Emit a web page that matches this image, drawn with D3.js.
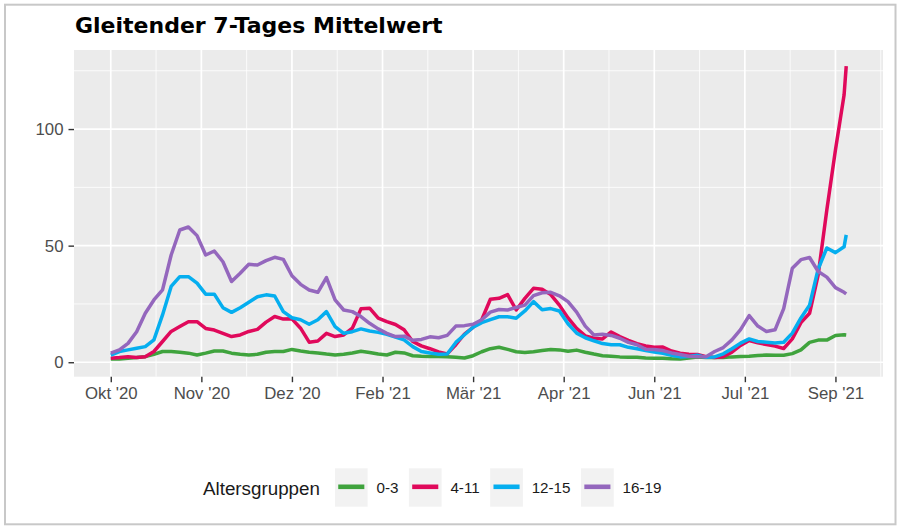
<!DOCTYPE html>
<html><head><meta charset="utf-8">
<script src="https://cdn.jsdelivr.net/npm/d3@7"></script>
<style>html,body{margin:0;padding:0;background:#fff;} svg{display:block;}</style>
</head><body>
<svg id="chart" width="900" height="531"></svg>
<script>
// ---------- data ----------
const chartTitle = "Gleitender 7-Tages Mittelwert";
const legendTitle = "Altersgruppen";
const groups = ["0-3", "4-11", "12-15", "16-19"];
const groupColors = ["#3fa33d", "#e0095b", "#05aeef", "#9467bd"];
const startDate = "2020-10-01";
const stepDays = 4;   // samples every 4 days
const lastDay = 341;  // final sample (2021-09-07)

const values0_3 = [1.4,1.4,1.7,2.0,2.4,3.4,4.6,4.6,4.3,3.9,
  3.1,3.9,4.8,4.8,3.9,3.4,3.1,3.4,4.3,4.6,
  4.6,5.5,4.8,4.3,4.0,3.5,3.1,3.4,4.0,4.7,
  4.2,3.5,3.1,4.3,4.0,2.8,2.6,2.5,2.5,2.4,
  2.1,1.8,2.8,4.5,5.8,6.4,5.5,4.5,4.2,4.5,
  5.0,5.5,5.3,4.7,5.2,4.3,3.5,2.8,2.6,2.3,
  2.1,2.1,1.8,1.7,1.7,1.5,1.4,1.8,2.2,2.0,
  2.0,2.0,2.3,2.5,2.6,2.9,3.1,3.0,3.0,3.7,
  5.3,8.5,9.5,9.5,11.5,11.8,11.7];
const values4_11 = [1.7,2.0,2.4,2.0,2.4,4.6,8.9,13.2,15.3,17.4,
  17.4,14.5,13.8,12.4,11.0,11.7,13.2,14.1,17.2,19.6,
  18.5,18.6,14.6,8.6,9.1,12.4,11.0,11.7,14.6,22.9,
  23.2,18.9,17.4,16.2,13.9,8.9,7.0,5.8,4.4,3.6,
  7.5,12.1,15.0,18.2,27.0,27.4,29.0,22.4,27.4,31.7,
  31.3,29.0,24.5,19.0,14.5,11.3,10.3,10.0,13.0,11.0,
  9.4,8.0,7.0,6.4,6.5,4.8,3.9,3.4,3.3,2.4,
  2.0,2.4,4.3,7.2,9.3,8.3,7.6,6.9,5.9,10.0,
  17.0,21.0,37.5,65.3,91.0,114.6,127.0];
const values12_15 = [3.1,4.6,5.3,6.0,6.7,9.6,20.3,32.5,36.7,36.7,
  33.9,29.2,29.2,23.4,21.4,23.4,25.7,28.1,28.9,28.4,
  21.7,19.1,18.2,16.3,18.2,21.7,15.3,12.4,13.1,14.3,
  13.4,12.8,12.0,10.8,9.6,6.7,4.6,4.0,3.4,3.5,
  8.5,11.8,15.0,17.0,18.3,19.5,19.5,18.9,22.0,26.0,
  22.5,23.0,22.0,16.5,12.5,10.5,9.2,8.0,7.5,7.5,
  6.4,5.8,5.0,4.4,3.8,3.0,2.3,2.5,3.0,2.1,
  2.3,3.6,5.8,8.2,10.0,8.9,8.6,8.3,8.6,12.5,
  19.0,24.5,40.0,49.0,47.0,49.5,54.6];
const values16_19 = [3.9,5.3,8.1,13.1,21.0,26.7,31.0,46.0,56.7,58.0,
  54.3,46.0,47.7,43.1,34.6,38.2,42.0,41.7,43.6,45.0,
  44.1,37.1,33.4,31.0,30.0,36.3,26.7,22.4,21.7,19.6,
  16.7,14.3,12.4,11.0,11.2,9.4,9.8,10.9,10.5,11.5,
  15.5,15.7,16.3,18.2,21.5,22.6,22.4,23.5,24.5,28.6,
  29.8,30.0,28.5,26.0,21.5,15.5,11.7,12.0,11.5,10.3,
  8.5,7.5,5.6,5.5,5.0,4.0,3.3,2.6,2.4,2.4,
  4.6,6.3,9.6,14.0,20.0,15.5,13.2,13.9,23.0,40.3,
  44.0,44.9,38.9,36.5,32.0,30.0,29.3];

const xTickDates = ["2020-10-01","2020-11-12","2020-12-24","2021-02-04","2021-03-18",
  "2021-04-29","2021-06-10","2021-07-22","2021-09-02"];
const xTickLabels = ["Okt '20","Nov '20","Dez '20","Feb '21","Mär '21",
  "Apr '21","Jun '21","Jul '21","Sep '21"];
const yTicks = [0, 50, 100];
const yTickLabels = ["0", "50", "100"];

// ---------- build ----------
const DAY = 86400000;
const parse = d3.utcParse("%Y-%m-%d");
const t0 = parse(startDate);
const sampleDays = d3.range(0, lastDay, stepDays).concat([lastDay]);
const dates = sampleDays.map(d => new Date(t0.getTime() + d * DAY));
const seriesValues = [values0_3, values4_11, values12_15, values16_19];
const series = groups.map((g, i) => ({
  name: g, color: groupColors[i],
  points: dates.map((dt, j) => ({date: dt, value: seriesValues[i][j]}))
}));

const panel = {left: 74, right: 883, top: 50, bottom: 376.7};
const svg = d3.select("#chart");

// outer frame
svg.append("rect").attr("x", 5).attr("y", 4.7).attr("width", 890.5).attr("height", 519.6)
  .attr("fill", "#fff").attr("stroke", "#c8c8c8").attr("stroke-width", 2);

const ext = d3.extent(dates);
const span = ext[1] - ext[0];
const x = d3.scaleUtc()
  .domain([new Date(ext[0].getTime() - 0.05 * span), new Date(ext[1].getTime() + 0.05 * span)])
  .range([panel.left, panel.right]);
const y = d3.scaleLinear().domain([-6.2, 133.9]).range([panel.bottom, panel.top]);

// panel
svg.append("rect").attr("x", panel.left).attr("y", panel.top)
  .attr("width", panel.right - panel.left).attr("height", panel.bottom - panel.top)
  .attr("fill", "#ebebeb");

const grid = svg.append("g");
// minor grid
const tickTimes = xTickDates.map(parse);
const stepMs = tickTimes[1] - tickTimes[0];
const minorX = [];
for (let i = -1; i < tickTimes.length; i++) {
  const a = i < 0 ? tickTimes[0].getTime() - stepMs : tickTimes[i].getTime();
  const m = new Date(a + stepMs / 2);
  if (x(m) > panel.left && x(m) < panel.right) minorX.push(m);
}
grid.selectAll(".mx").data(minorX).join("line")
  .attr("x1", d => x(d)).attr("x2", d => x(d)).attr("y1", panel.top).attr("y2", panel.bottom)
  .attr("stroke", "#fff").attr("stroke-width", 0.8);
const minorY = [25, 75, 125];
grid.selectAll(".my").data(minorY).join("line")
  .attr("y1", d => y(d)).attr("y2", d => y(d)).attr("x1", panel.left).attr("x2", panel.right)
  .attr("stroke", "#fff").attr("stroke-width", 0.8);
// major grid
grid.selectAll(".Mx").data(tickTimes).join("line")
  .attr("x1", d => x(d)).attr("x2", d => x(d)).attr("y1", panel.top).attr("y2", panel.bottom)
  .attr("stroke", "#fff").attr("stroke-width", 1.7);
grid.selectAll(".My").data(yTicks).join("line")
  .attr("y1", d => y(d)).attr("y2", d => y(d)).attr("x1", panel.left).attr("x2", panel.right)
  .attr("stroke", "#fff").attr("stroke-width", 1.7);

// lines
const line = d3.line().x(d => x(d.date)).y(d => y(d.value));
svg.append("g").selectAll("path").data(series).join("path")
  .attr("d", d => line(d.points))
  .attr("fill", "none").attr("stroke", d => d.color)
  .attr("stroke-width", 3.5).attr("stroke-linejoin", "round").attr("stroke-linecap", "butt");

// axes
const xAxis = d3.axisBottom(x).tickValues(tickTimes)
  .tickFormat((d, i) => xTickLabels[i]).tickSizeOuter(0).tickSize(5.5).tickPadding(5);
const gx = svg.append("g").attr("transform", `translate(0,${panel.bottom})`).call(xAxis);
gx.select(".domain").remove();
gx.selectAll(".tick line").attr("stroke", "#333").attr("stroke-width", 1.4);
gx.selectAll(".tick text").attr("fill", "#4d4d4d").attr("font-size", 16.8)
  .attr("font-family", "'Liberation Sans', Arial, sans-serif");

const yAxis = d3.axisLeft(y).tickValues(yTicks).tickFormat((d, i) => yTickLabels[i])
  .tickSizeOuter(0).tickSize(5.5).tickPadding(5);
const gy = svg.append("g").attr("transform", `translate(${panel.left},0)`).call(yAxis);
gy.select(".domain").remove();
gy.selectAll(".tick line").attr("stroke", "#333").attr("stroke-width", 1.4);
gy.selectAll(".tick text").attr("fill", "#4d4d4d").attr("font-size", 16.8)
  .attr("font-family", "'Liberation Sans', Arial, sans-serif");

// title
svg.append("text").attr("x", 75).attr("y", 33).text(chartTitle)
  .attr("font-family", "'DejaVu Sans', sans-serif").attr("font-weight", "bold")
  .attr("font-size", 22).attr("fill", "#000");

// legend
const lg = svg.append("g");
const lt = lg.append("text").attr("x", 203).attr("y", 495).text(legendTitle)
  .attr("font-family", "'Liberation Sans', Arial, sans-serif").attr("font-size", 18.8).attr("fill", "#1a1a1a");
let cx = 203 + lt.node().getComputedTextLength() + 15;
series.forEach(s => {
  lg.append("rect").attr("x", cx).attr("y", 468.3).attr("width", 32.7).attr("height", 38.4).attr("fill", "#f2f2f2");
  lg.append("line").attr("x1", cx + 3.3).attr("x2", cx + 29.4).attr("y1", 486.8).attr("y2", 486.8)
    .attr("stroke", s.color).attr("stroke-width", 4.6);
  const tt = lg.append("text").attr("x", cx + 41.5).attr("y", 493.3).text(s.name)
    .attr("font-family", "'Liberation Sans', Arial, sans-serif").attr("font-size", 15.2).attr("fill", "#1a1a1a");
  cx = cx + 41.5 + tt.node().getComputedTextLength() + 10.5;
});
</script>
</body></html>
